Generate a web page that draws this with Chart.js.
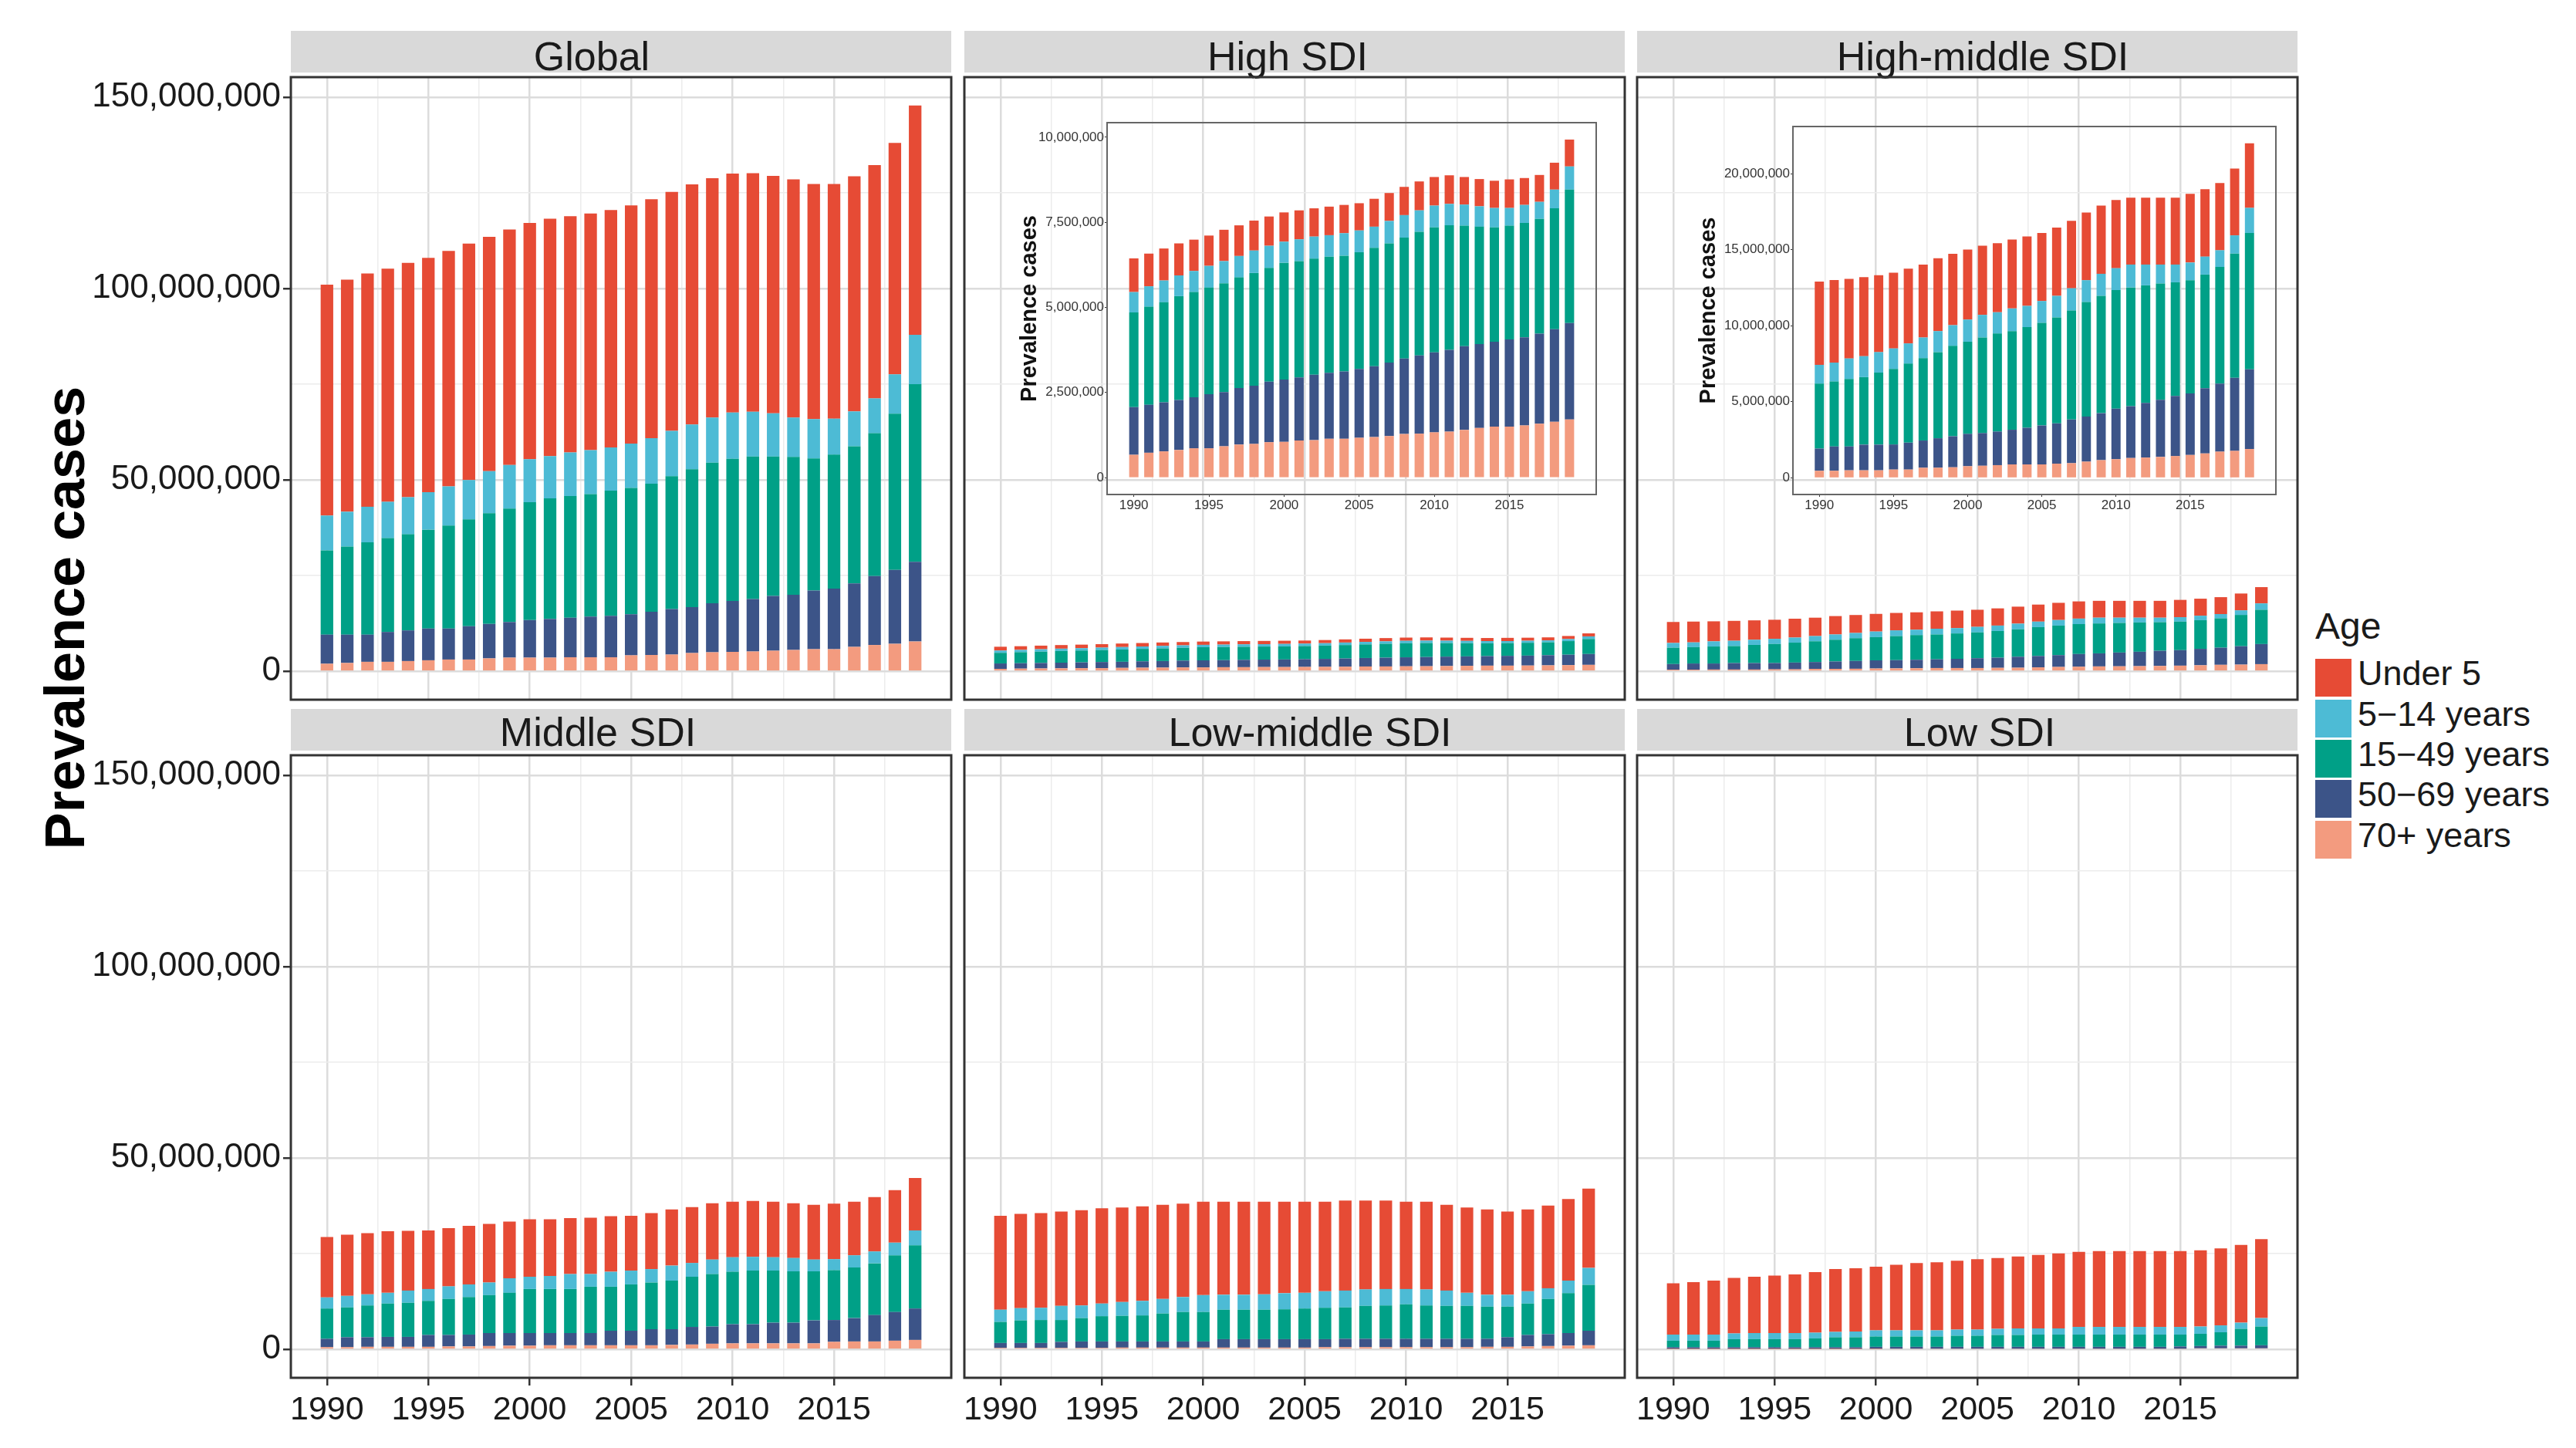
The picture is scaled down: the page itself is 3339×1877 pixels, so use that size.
<!DOCTYPE html>
<html>
<head>
<meta charset="utf-8">
<script src="https://cdn.jsdelivr.net/npm/chart.js@4.4.1/dist/chart.umd.min.js"></script>
<style>
  body { margin: 0; background: #fff; }
  #page { position: relative; width: 3339px; height: 1877px; overflow: hidden; background: #fff;
          font-family: "Liberation Sans", Arial, sans-serif; color: #1a1a1a; }
  canvas { position: absolute; }
  .strip { position: absolute; height: 54px; background: #d9d9d9; }
  .strip span { position: absolute; font-size: 52px; line-height: 1; white-space: nowrap; transform: translateX(-50%); }
  #ytitle { position: absolute; left: 84px; top: 801px; font-weight: bold; font-size: 72px; line-height: 1;
            white-space: nowrap; transform: translate(-50%, -50%) rotate(-90deg); color: #000; }
  .legtitle { position: absolute; font-size: 48px; line-height: 1; }
  .legkey { position: absolute; width: 47px; height: 49px; }
  .leglab { position: absolute; font-size: 45px; line-height: 49px; white-space: nowrap; }
</style>
</head>
<body>
<div id="page">
  <div id="ytitle">Prevalence cases</div>
</div>
<script>
// ============ data (prevalence cases, millions) ============
var years = [1990, 1991, 1992, 1993, 1994, 1995, 1996, 1997, 1998, 1999,
             2000, 2001, 2002, 2003, 2004, 2005, 2006, 2007, 2008, 2009,
             2010, 2011, 2012, 2013, 2014, 2015, 2016, 2017, 2018, 2019];
var ageGroups = ["Under 5", "5\u221214 years", "15\u221249 years", "50\u221269 years", "70+ years"];
var regions = ["Global", "High SDI", "High-middle SDI", "Middle SDI", "Low-middle SDI", "Low SDI"];
var xTickYears = [1990, 1995, 2000, 2005, 2010, 2015];
var xGridYears = [1990, 1992.5, 1995, 1997.5, 2000, 2002.5, 2005, 2007.5, 2010, 2012.5, 2015, 2017.5];
var yGridMain = [0, 25, 50, 75, 100, 125, 150];
var yTicksHigh = [0, 2.5, 5, 7.5, 10];
var yTicksHighMid = [0, 5, 10, 15, 20];

var globalUnder5 = [60.3, 60.6, 60.9, 60.9, 61.2, 61.2, 61.5, 61.7, 61.2, 61.5, 61.7, 62.0, 61.7, 61.8, 62.0, 62.2, 62.4, 62.4, 62.7, 62.5, 62.4, 62.3, 62.0, 62.2, 61.4, 61.3, 61.4, 60.9, 60.4, 59.9];
var global5to14 = [9.1, 9.1, 9.3, 9.5, 9.7, 9.8, 10.2, 10.3, 11.0, 11.4, 11.2, 11.0, 11.4, 11.5, 11.3, 11.6, 11.9, 11.8, 11.7, 11.8, 12.1, 11.7, 11.3, 10.3, 10.3, 9.4, 9.1, 9.1, 10.3, 12.9];
var global15to49 = [22.0, 23.0, 24.1, 24.5, 25.1, 25.8, 26.9, 27.9, 28.9, 29.6, 30.8, 31.5, 31.8, 32.0, 32.7, 33.0, 33.4, 34.7, 36.0, 36.7, 37.1, 37.2, 36.4, 36.0, 34.5, 35.0, 35.8, 37.3, 40.8, 46.4];
var global50to69 = [7.6, 7.4, 7.1, 7.8, 8.0, 8.3, 8.1, 8.7, 9.0, 9.3, 9.8, 10.1, 10.3, 10.6, 10.8, 10.7, 11.3, 11.9, 12.0, 12.8, 13.3, 13.7, 14.3, 14.4, 15.3, 15.8, 16.6, 18.0, 19.3, 20.8];
var global70plus = [2.0, 2.2, 2.5, 2.5, 2.7, 2.9, 3.1, 3.1, 3.4, 3.6, 3.6, 3.6, 3.7, 3.7, 3.7, 4.2, 4.3, 4.4, 4.8, 5.0, 5.1, 5.2, 5.4, 5.6, 5.8, 5.8, 6.4, 6.9, 7.2, 7.8];

var highUnder5 = [0.99, 0.96, 0.94, 0.94, 0.92, 0.89, 0.92, 0.90, 0.88, 0.86, 0.86, 0.85, 0.83, 0.84, 0.83, 0.80, 0.82, 0.82, 0.83, 0.85, 0.84, 0.84, 0.81, 0.80, 0.80, 0.84, 0.79, 0.79, 0.79, 0.79];
var high5to14 = [0.60, 0.60, 0.64, 0.61, 0.62, 0.64, 0.65, 0.63, 0.66, 0.65, 0.62, 0.64, 0.65, 0.63, 0.66, 0.64, 0.62, 0.66, 0.66, 0.63, 0.64, 0.63, 0.62, 0.60, 0.57, 0.52, 0.53, 0.50, 0.55, 0.68];
var high15to49 = [2.78, 2.88, 2.94, 3.05, 3.09, 3.13, 3.20, 3.25, 3.31, 3.34, 3.43, 3.42, 3.41, 3.41, 3.40, 3.43, 3.48, 3.50, 3.55, 3.63, 3.67, 3.66, 3.54, 3.45, 3.36, 3.34, 3.36, 3.37, 3.55, 3.92];
var high50to69 = [1.40, 1.41, 1.44, 1.47, 1.50, 1.59, 1.59, 1.66, 1.71, 1.78, 1.83, 1.85, 1.92, 1.94, 1.98, 2.02, 2.08, 2.16, 2.22, 2.30, 2.35, 2.40, 2.46, 2.46, 2.49, 2.56, 2.59, 2.65, 2.72, 2.83];
var high70plus = [0.67, 0.73, 0.77, 0.81, 0.86, 0.86, 0.92, 0.97, 0.99, 1.04, 1.05, 1.09, 1.10, 1.14, 1.14, 1.17, 1.19, 1.22, 1.28, 1.29, 1.33, 1.35, 1.40, 1.46, 1.50, 1.50, 1.53, 1.58, 1.64, 1.71];

var hmUnder5 = [5.48, 5.43, 5.23, 5.20, 5.06, 4.98, 4.92, 4.80, 4.80, 4.69, 4.61, 4.55, 4.54, 4.54, 4.57, 4.47, 4.49, 4.44, 4.45, 4.49, 4.49, 4.40, 4.40, 4.40, 4.40, 4.52, 4.44, 4.42, 4.39, 4.25];
var hm5to14 = [1.24, 1.25, 1.35, 1.38, 1.35, 1.35, 1.33, 1.36, 1.38, 1.36, 1.46, 1.49, 1.40, 1.49, 1.40, 1.44, 1.42, 1.47, 1.44, 1.45, 1.44, 1.51, 1.37, 1.25, 1.17, 1.16, 1.18, 1.10, 1.20, 1.66];
var hm15to49 = [4.27, 4.27, 4.44, 4.44, 4.74, 4.97, 5.20, 5.42, 5.67, 5.95, 6.06, 6.29, 6.45, 6.49, 6.62, 6.75, 6.97, 7.17, 7.53, 7.72, 7.81, 7.81, 7.73, 7.65, 7.48, 7.45, 7.48, 7.68, 8.17, 8.96];
var hm50to69 = [1.46, 1.60, 1.57, 1.69, 1.69, 1.65, 1.77, 1.79, 1.94, 2.04, 2.13, 2.15, 2.21, 2.28, 2.41, 2.56, 2.65, 2.87, 2.97, 3.09, 3.32, 3.41, 3.60, 3.76, 3.95, 4.05, 4.29, 4.47, 4.81, 5.25];
var hm70plus = [0.46, 0.46, 0.49, 0.49, 0.49, 0.54, 0.54, 0.66, 0.66, 0.69, 0.76, 0.79, 0.83, 0.88, 0.88, 0.88, 0.93, 0.96, 1.06, 1.16, 1.22, 1.30, 1.33, 1.37, 1.43, 1.50, 1.60, 1.72, 1.77, 1.89];

var midUnder5 = [15.8, 16.0, 16.0, 16.1, 15.6, 15.3, 15.2, 15.3, 15.3, 14.8, 15.0, 14.8, 14.6, 14.7, 14.5, 14.3, 14.6, 14.7, 14.6, 14.7, 14.5, 14.6, 14.5, 14.3, 14.3, 14.5, 14.0, 14.2, 13.7, 13.7];
var mid5to14 = [2.9, 3.0, 2.9, 2.8, 3.2, 3.1, 3.3, 3.3, 3.3, 3.8, 3.2, 3.4, 3.9, 3.3, 3.9, 3.6, 3.5, 3.9, 3.6, 3.8, 3.8, 3.6, 3.5, 3.5, 3.1, 2.9, 3.2, 3.1, 3.3, 3.9];
var mid15to49 = [7.9, 7.8, 8.3, 8.7, 8.9, 8.9, 9.4, 9.8, 9.9, 10.5, 11.5, 11.5, 11.5, 12.1, 11.5, 12.1, 12.2, 12.7, 13.1, 13.7, 13.7, 14.0, 13.6, 13.4, 12.8, 13.0, 13.2, 13.5, 14.8, 16.5];
var mid50to69 = [2.2, 2.6, 2.5, 2.6, 2.6, 3.1, 3.0, 3.1, 3.4, 3.3, 3.3, 3.2, 3.2, 3.2, 3.8, 3.8, 4.2, 4.1, 4.6, 4.5, 5.0, 5.0, 5.4, 5.4, 6.0, 5.7, 6.1, 6.9, 7.5, 8.2];
var mid70plus = [0.6, 0.6, 0.7, 0.7, 0.7, 0.7, 0.8, 0.8, 0.9, 1.0, 1.0, 1.1, 1.1, 1.1, 1.1, 1.1, 1.1, 1.2, 1.3, 1.5, 1.6, 1.6, 1.6, 1.6, 1.6, 2.0, 2.1, 2.1, 2.3, 2.5];

var lmUnder5 = [24.5, 24.6, 24.7, 24.6, 24.9, 24.9, 24.7, 24.7, 24.6, 24.4, 24.4, 24.3, 24.3, 24.2, 23.9, 23.8, 23.4, 23.5, 23.2, 23.1, 22.8, 22.9, 22.4, 22.3, 22.3, 21.7, 21.4, 21.6, 21.3, 20.7];
var lm5to14 = [3.2, 3.2, 3.2, 3.7, 3.3, 3.3, 3.6, 3.8, 3.8, 3.9, 4.4, 3.9, 3.9, 4.0, 4.2, 4.1, 4.3, 4.4, 4.3, 4.3, 4.0, 4.2, 4.0, 3.4, 3.1, 3.1, 3.2, 2.8, 3.3, 4.4];
var lm15to49 = [5.5, 5.9, 6.0, 5.7, 6.1, 6.6, 6.7, 6.8, 7.3, 7.7, 7.7, 7.7, 7.7, 7.7, 7.8, 8.0, 8.2, 8.2, 8.6, 8.7, 9.0, 8.7, 8.6, 8.6, 8.4, 8.0, 8.2, 9.2, 10.4, 12.0];
var lm50to69 = [1.3, 1.3, 1.3, 1.6, 1.7, 1.7, 1.6, 1.6, 1.6, 1.6, 1.6, 2.2, 2.2, 2.2, 2.2, 2.2, 2.1, 2.2, 2.2, 2.2, 2.2, 2.2, 2.2, 2.2, 2.1, 2.5, 3.0, 3.1, 3.3, 3.8];
var lm70plus = [0.4, 0.4, 0.4, 0.4, 0.4, 0.4, 0.5, 0.5, 0.5, 0.5, 0.5, 0.5, 0.5, 0.5, 0.5, 0.5, 0.6, 0.6, 0.6, 0.6, 0.6, 0.6, 0.6, 0.6, 0.7, 0.7, 0.8, 0.9, 1.0, 1.1];

var lowUnder5 = [13.4, 13.7, 14.1, 14.5, 14.7, 15.0, 15.3, 15.8, 16.4, 16.5, 16.6, 17.1, 17.6, 17.8, 18.0, 18.4, 18.5, 18.8, 19.2, 19.6, 19.6, 19.8, 19.8, 19.8, 19.8, 19.8, 19.9, 20.1, 20.3, 20.6];
var low5to14 = [1.6, 1.6, 1.6, 1.5, 1.6, 1.6, 1.6, 1.5, 1.4, 1.5, 1.6, 1.6, 1.6, 1.6, 1.6, 1.6, 1.6, 1.7, 1.6, 1.6, 2.0, 2.0, 2.0, 2.0, 2.0, 2.0, 1.9, 1.8, 1.6, 2.2];
var low15to49 = [1.7, 1.7, 1.7, 2.1, 2.1, 2.1, 2.1, 2.3, 2.6, 2.6, 2.7, 2.7, 2.7, 2.7, 2.9, 2.9, 3.1, 3.1, 3.2, 3.2, 3.2, 3.2, 3.2, 3.2, 3.2, 3.1, 3.2, 3.5, 4.4, 4.9];
var low50to69 = [0.5, 0.5, 0.5, 0.5, 0.5, 0.5, 0.5, 0.5, 0.5, 0.5, 0.6, 0.5, 0.5, 0.5, 0.5, 0.5, 0.5, 0.5, 0.5, 0.5, 0.5, 0.5, 0.5, 0.5, 0.5, 0.6, 0.6, 0.7, 0.7, 0.8];
var low70plus = [0.1, 0.1, 0.1, 0.1, 0.1, 0.1, 0.1, 0.1, 0.1, 0.1, 0.1, 0.2, 0.2, 0.2, 0.2, 0.2, 0.2, 0.2, 0.2, 0.2, 0.2, 0.2, 0.2, 0.2, 0.2, 0.2, 0.3, 0.3, 0.3, 0.3];

// ============ styling / layout ============
var ageColors = ["#E64B35", "#4DBBD5", "#00A087", "#3C5488", "#F39B7F"];
var regionSeries = [
  [globalUnder5, global5to14, global15to49, global50to69, global70plus],
  [highUnder5, high5to14, high15to49, high50to69, high70plus],
  [hmUnder5, hm5to14, hm15to49, hm50to69, hm70plus],
  [midUnder5, mid5to14, mid15to49, mid50to69, mid70plus],
  [lmUnder5, lm5to14, lm15to49, lm50to69, lm70plus],
  [lowUnder5, low5to14, low15to49, low50to69, low70plus]
];

var FONT = "'Liberation Sans', Arial, sans-serif";
Chart.defaults.font.family = FONT;

var colLeft = [377, 1250, 2122];
var rowTop = [100, 979];
var plotW = 856, plotH = 807;
var stripLabelShift = [-38, -9, 20, -30, 20, 16];
var stripTextTop = [7, 4];
var NONE = "rgba(0,0,0,0)";

var page = document.getElementById("page");

var panelBox = {
  id: "panelBox",
  afterDraw: function (chart, args, opts) {
    var a = chart.chartArea, c = chart.ctx;
    c.save();
    c.strokeStyle = opts.color;
    c.lineWidth = opts.width;
    c.strokeRect(a.left, a.top, a.right - a.left, a.bottom - a.top);
    c.restore();
  }
};

function makeDatasets(series) {
  var out = [];
  // stack bottom -> top: 70+, 50-69, 15-49, 5-14, Under 5
  for (var k = ageGroups.length - 1; k >= 0; k--) {
    out.push({
      label: ageGroups[k],
      data: years.map(function (yr, i) { return { x: yr, y: series[k][i] }; }),
      backgroundColor: ageColors[k],
      borderWidth: 0,
      barPercentage: 0.62,
      categoryPercentage: 1
    });
  }
  return out;
}

function addCanvas(left, top, w, h) {
  var cv = document.createElement("canvas");
  cv.width = w; cv.height = h;
  cv.style.left = left + "px"; cv.style.top = top + "px";
  cv.style.width = w + "px"; cv.style.height = h + "px";
  page.appendChild(cv);
  return cv;
}

function setTicks(list) {
  return function (s) { s.ticks = list.map(function (v) { return { value: v }; }); };
}

// values are in millions; labels show full counts
function fmtCases(v) { return Math.round(v * 1e6).toLocaleString("en-US"); }
function isMajorX(v) { return xTickYears.indexOf(v) >= 0; }
function isMajorY(v) { return v % 50 === 0; }

//=================== Main facet panels ===================
regions.forEach(function (name, idx) {
  var col = idx % 3, row = Math.floor(idx / 3);
  var PL = colLeft[col], PT = rowTop[row];
  var yW = col === 0 ? PL : 3;
  var xH = row === 1 ? 1877 - (PT + plotH) : 3;

  // strip
  var strip = document.createElement("div");
  strip.className = "strip";
  strip.style.left = PL + "px"; strip.style.width = plotW + "px";
  strip.style.top = (PT - 60) + "px";
  var sp = document.createElement("span");
  sp.textContent = name;
  sp.style.left = (plotW / 2 + stripLabelShift[idx]) + "px";
  sp.style.top = stripTextTop[row] + "px";
  strip.appendChild(sp);
  page.appendChild(strip);

  var cv = addCanvas(PL - yW, PT - 3, yW + plotW + 3, 3 + plotH + xH);
  new Chart(cv, {
    type: "bar",
    data: { datasets: makeDatasets(regionSeries[idx]) },
    options: {
      responsive: false, animation: false, devicePixelRatio: 1,
      layout: { padding: { top: 3, right: 3, left: 0, bottom: 0 } },
      plugins: { legend: { display: false }, tooltip: { enabled: false }, panelBox: { color: "#333333", width: 3 } },
      scales: {
        x: {
          type: "linear", stacked: true, offset: false, min: 1988.22, max: 2020.78,
          afterBuildTicks: setTicks(xGridYears),
          afterFit: function (s) { s.height = xH; s.paddingLeft = 0; s.paddingRight = 0; },
          border: { display: false },
          grid: {
            offset: false,
            color: function (c) { return isMajorX(c.tick.value) ? "#dcdcdc" : "#ececec"; },
            lineWidth: function (c) { return isMajorX(c.tick.value) ? 2.5 : 1.5; },
            drawTicks: row === 1, tickLength: 10, tickWidth: 2.5,
            tickColor: function (c) { return isMajorX(c.tick.value) ? "#333333" : NONE; }
          },
          ticks: {
            display: row === 1, autoSkip: false, maxRotation: 0, minRotation: 0,
            padding: 6, color: "#1a1a1a", font: { size: 43 },
            callback: function (v) { return isMajorX(v) ? String(v) : ""; }
          }
        },
        y: {
          stacked: true, min: -7.39, max: 155.19,
          afterBuildTicks: setTicks(yGridMain),
          afterFit: function (s) { s.width = yW; s.paddingTop = 0; s.paddingBottom = 0; },
          border: { display: false },
          grid: {
            color: function (c) { return isMajorY(c.tick.value) ? "#dcdcdc" : "#ececec"; },
            lineWidth: function (c) { return isMajorY(c.tick.value) ? 2.5 : 1.5; },
            drawTicks: col === 0, tickLength: 10, tickWidth: 2.5,
            tickColor: function (c) { return isMajorY(c.tick.value) ? "#333333" : NONE; }
          },
          ticks: {
            display: col === 0, autoSkip: false,
            padding: 3, color: "#1a1a1a", font: { size: 44 },
            callback: function (v) { return isMajorY(v) ? fmtCases(v) : ""; }
          }
        }
      }
    },
    plugins: [panelBox]
  });
});

//=================== Insets (High SDI, High-middle SDI) ===================
var insets = [
  { series: regionSeries[1], left: 1435, top: 159, w: 634, h: 482, yW: 117, yMin: -0.4965, yMax: 10.4265, yTicks: yTicksHigh },
  { series: regionSeries[2], left: 2324, top: 164, w: 626, h: 477, yW: 126, yMin: -1.1005, yMax: 23.1105, yTicks: yTicksHighMid }
];

insets.forEach(function (ins) {
  var xH = 30;
  var cv = addCanvas(ins.left - ins.yW, ins.top - 3, ins.yW + ins.w + 3, 3 + ins.h + xH);
  new Chart(cv, {
    type: "bar",
    data: { datasets: makeDatasets(ins.series) },
    options: {
      responsive: false, animation: false, devicePixelRatio: 1,
      layout: { padding: { top: 3, right: 3, left: 0, bottom: 0 } },
      plugins: { legend: { display: false }, tooltip: { enabled: false }, panelBox: { color: "#666666", width: 2 } },
      scales: {
        x: {
          type: "linear", stacked: true, offset: false, min: 1988.22, max: 2020.78,
          afterBuildTicks: setTicks(xTickYears),
          afterFit: function (s) { s.height = xH; s.paddingLeft = 0; s.paddingRight = 0; },
          border: { display: false },
          grid: { offset: false, drawOnChartArea: false, drawTicks: true, tickLength: 3, tickWidth: 1, tickColor: "#333333" },
          ticks: {
            autoSkip: false, maxRotation: 0, minRotation: 0,
            padding: 1, color: "#333333", font: { size: 17 },
            callback: function (v) { return String(v); }
          }
        },
        y: {
          stacked: true, min: ins.yMin, max: ins.yMax,
          afterBuildTicks: setTicks(ins.yTicks),
          afterFit: function (s) { s.width = ins.yW; s.paddingTop = 0; s.paddingBottom = 0; },
          border: { display: false },
          grid: { drawOnChartArea: false, drawTicks: true, tickLength: 3, tickWidth: 1, tickColor: "#333333" },
          title: { display: true, text: "Prevalence cases", color: "#111111", padding: 0, font: { size: 29, weight: "bold" } },
          ticks: {
            autoSkip: false, padding: 1,
            color: "#333333", font: { size: 17 },
            callback: function (v) { return fmtCases(v); }
          }
        }
      }
    },
    plugins: [panelBox]
  });
});

//=================== Legend ===================
var legTitle = document.createElement("div");
legTitle.className = "legtitle";
legTitle.textContent = "Age";
legTitle.style.left = "3001px"; legTitle.style.top = "788px";
page.appendChild(legTitle);

var keyTops = [854, 907, 959, 1011, 1064];
ageGroups.forEach(function (lab, k) {
  var key = document.createElement("div");
  key.className = "legkey";
  key.style.left = "3001px"; key.style.top = keyTops[k] + "px";
  key.style.background = ageColors[k];
  page.appendChild(key);
  var t = document.createElement("div");
  t.className = "leglab";
  t.textContent = lab;
  t.style.left = "3056px"; t.style.top = (keyTops[k] - 6) + "px";
  page.appendChild(t);
});
</script>
</body>
</html>
